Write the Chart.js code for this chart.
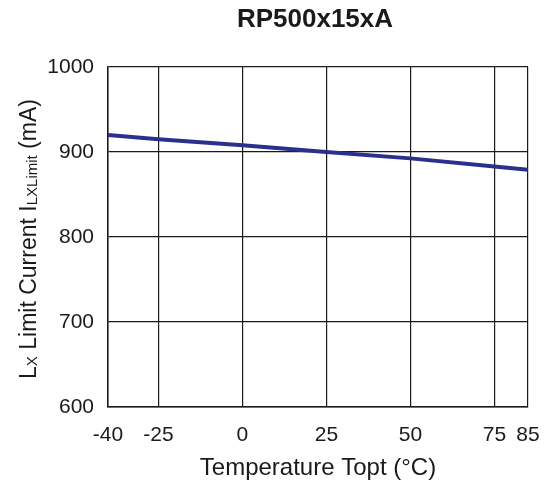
<!DOCTYPE html>
<html>
<head>
<meta charset="utf-8">
<script src="https://cdn.jsdelivr.net/npm/chart.js@4/dist/chart.umd.min.js"></script>
<style>
  html, body { margin: 0; padding: 0; background: #fff; }
  #wrap { width: 550px; height: 487px; }
</style>
</head>
<body>
<div id="wrap"><canvas id="limitChart"></canvas></div>
<script>
// data
const temps = [-40, -25, 0, 25, 50, 75, 85];
const currents = [920, 915, 908, 900, 892.5, 883, 879];
const xTicks = [-40, -25, 0, 25, 50, 75, 85];
const yTicks = [600, 700, 800, 900, 1000];
const chartTitle = 'RP500x15xA';

const FONT = '"Liberation Sans", Arial, sans-serif';

// title + y axis title with subscripts
const textPlugin = {
    id: 'textPlugin',
    afterDraw(chart) {
        const c = chart.ctx;
        c.save();
        c.fillStyle = '#1a1a1a';
        c.textBaseline = 'middle';
        c.textAlign = 'center';
        c.font = 'bold 26px ' + FONT;
        c.fillText(chartTitle, 315, 20);

        // rotated y title: pieces [text, size, baseline shift]
        const parts = [
            ['L', 23, 0], ['X', 15, 1], [' Limit Current I', 23, 0],
            ['LXLimit', 15, 1], [' (mA)', 23, 0]
        ];
        let total = 0;
        parts.forEach(p => { c.font = p[1] + 'px ' + FONT; total += c.measureText(p[0]).width; });
        c.translate(28, 239);
        c.rotate(-Math.PI / 2);
        c.textAlign = 'left';
        c.textBaseline = 'alphabetic';
        let x = -total / 2;
        parts.forEach(p => {
            c.font = p[1] + 'px ' + FONT;
            c.fillText(p[0], x, 8 + p[2]);
            x += c.measureText(p[0]).width;
        });
        c.restore();
    }
};

document.addEventListener('DOMContentLoaded', function () {
    const ctx = document.getElementById('limitChart').getContext('2d');
    new Chart(ctx, {
        type: 'line',
        data: {
            datasets: [{
                data: temps.map((t, i) => ({ x: t, y: currents[i] })),
                borderColor: '#2B2F8E',
                borderWidth: 4,
                pointRadius: 0,
                tension: 0,
                fill: false
            }]
        },
        options: {
            responsive: true,
            maintainAspectRatio: false,
            animation: false,
            layout: { padding: { top: 67, right: 22, left: 0, bottom: 0 } },
            scales: {
                x: {
                    type: 'linear',
                    min: -40,
                    max: 85,
                    afterBuildTicks: s => { s.ticks = xTicks.map(v => ({ value: v })); },
                    afterFit: s => { s.height = 80; s.paddingRight = 0; s.paddingLeft = 0; },
                    ticks: {
                        color: '#1a1a1a',
                        font: { family: FONT, size: 21 },
                        padding: 16,
                        maxRotation: 0,
                        autoSkip: false,
                        callback: v => String(v)
                    },
                    grid: { color: '#1a1a1a', lineWidth: 1.2, drawTicks: false },
                    border: { color: '#1a1a1a', width: 1.5 },
                    title: {
                        display: true,
                        text: 'Temperature Topt (°C)',
                        color: '#1a1a1a',
                        font: { family: FONT, size: 24 },
                        padding: { top: 4, bottom: 4 }
                    }
                },
                y: {
                    min: 600,
                    max: 1000,
                    afterBuildTicks: s => { s.ticks = yTicks.map(v => ({ value: v })); },
                    afterFit: s => { s.width = 108; },
                    ticks: {
                        color: '#1a1a1a',
                        font: { family: FONT, size: 21 },
                        padding: 14,
                        callback: v => String(v)
                    },
                    grid: { color: '#1a1a1a', lineWidth: 1.2, drawTicks: false },
                    border: { color: '#1a1a1a', width: 1.5 }
                }
            },
            plugins: {
                legend: { display: false },
                tooltip: { enabled: false },
                title: { display: false }
            }
        },
        plugins: [textPlugin]
    });
});
</script>
</body>
</html>
